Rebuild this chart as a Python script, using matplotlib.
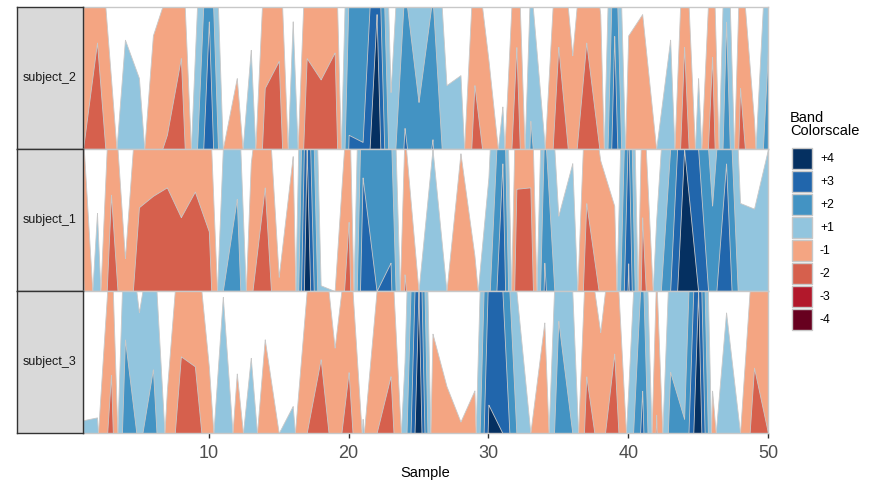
import numpy as np
import matplotlib
matplotlib.use("Agg")
from matplotlib import pyplot as plt
from matplotlib.patches import Rectangle

plt.rcParams['font.family'] = ['Liberation Sans', 'DejaVu Sans']

samples = np.arange(1, 51)
subjects = ["subject_2", "subject_1", "subject_3"]

# values in band units (1.0 = one full band)
subject_2 = [-1.0, -1.75, -0.5, 0.77, 0.5, -0.8, -1.1, -1.64, 0.65, 2.9,
             0.0, -0.5, 0.7, -1.43, -1.62, 0.9, -1.64, -1.49, -1.68, 2.1,
             2.05, 3.95, 0.4, 2.15, 1.33, 2.07, 0.45, 0.52, -1.45, -0.63,
             0.3, -1.72, 1.2, 0.05, -1.72, -0.66, -1.75, -0.95, 2.8, -0.8,
             -0.95, 0.0, 0.77, -1.72, 0.5, -1.65, 1.9, -1.43, -0.2, 1.7]
subject_1 = [-1.1, 0.55, -1.68, -0.23, -1.59, -1.67, -1.73, -1.52, -1.70, -1.42,
             1.0, 1.65, -0.9, -1.73, -0.1, -0.95, 4.0, 0.04, 0.0, -1.49,
             2.8, 2.0, 2.2, -1.12, 0.0, 1.0, 0.0, -0.97, -0.25, 0.8,
             2.9, -1.72, -1.73, 2.2, 0.53, 0.9, -1.62, -0.92, -0.6, 3.2,
             -1.52, 0.5, 2.0, 4.0, 3.0, 1.6, 2.9, 0.62, 0.58, 1.0]
subject_3 = [0.09, 0.11, -1.41, 1.66, 0.85, 1.45, -0.3, -1.54, -1.47, -0.47,
             0.96, -0.42, 0.53, -0.66, 0.0, 0.19, -1.0, -1.52, -0.6, -1.43,
             0.1, -1.0, -1.4, 0.5, 4.0, -0.7, -0.33, -0.08, -0.3, 3.2,
             3.0, 1.0, 0.0, -0.78, 1.79, 1.0, -1.4, -0.71, -1.56, 0.3,
             2.3, -1.13, 1.43, 1.1, 4.0, -0.3, 0.85, 0.0, -1.46, -1.0]
series = [subject_2, subject_1, subject_3]

band_labels = ["+4", "+3", "+2", "+1", "-1", "-2", "-3", "-4"]
pos_colors = ["#92C5DE", "#4393C3", "#2166AC", "#053061"]
neg_colors = ["#F4A582", "#D6604D", "#B2182B", "#67001F"]
n_bands = 4

W, H = 875, 486
fig = plt.figure(figsize=(W / 100, H / 100), dpi=100)


def px_axes(x0, y0, x1, y1):
    return fig.add_axes([x0 / W, 1 - y1 / H, (x1 - x0) / W, (y1 - y0) / H])


def horizon(ax, values):
    # dense grid only to draw the clipped straight segments between samples
    xf = np.linspace(samples[0], samples[-1], 20000)
    vf = np.interp(xf, samples, values)
    for sign, colors in ((1, pos_colors), (-1, neg_colors)):
        part = np.clip(sign * vf, 0, None)
        for k in range(n_bands):
            yk = np.clip(part - k, 0, 1)
            if yk.max() <= 0:
                continue
            ax.fill_between(xf, 0, yk, facecolor=colors[k],
                            edgecolor="#C8C8C8", linewidth=0.6)


panel_top = 7
panel_h = 142
for i, (name, vals) in enumerate(zip(subjects, series)):
    y0 = panel_top + i * panel_h
    ax = px_axes(83, y0, 768, y0 + panel_h)
    horizon(ax, vals)
    ax.set_xlim(1, 50)
    ax.set_ylim(0, 1)
    ax.set_yticks([])
    for s in ax.spines.values():
        s.set_color("#C8C8C8")
        s.set_linewidth(1)
    if i == len(subjects) - 1:
        ax.set_xticks([10, 20, 30, 40, 50])
        ax.tick_params(axis="x", length=3.5, width=1, color="#333333",
                       labelsize=13, labelcolor="#4D4D4D", pad=5)
        ax.set_xlabel("Sample", fontsize=10.5, color="black", labelpad=3)
    else:
        ax.set_xticks([])

    sax = px_axes(17, y0, 83, y0 + panel_h)
    sax.set_facecolor("#D9D9D9")
    sax.set_xticks([])
    sax.set_yticks([])
    for s in sax.spines.values():
        s.set_color("#333333")
        s.set_linewidth(1)
    sax.text(0.5, 0.5, name, ha="center", va="center", fontsize=9,
             color="#1A1A1A", transform=sax.transAxes)

# legend
lax = px_axes(780, 100, 875, 340)
lax.set_xlim(780, 875)
lax.set_ylim(340, 100)
lax.axis("off")
lax.text(790, 111, "Band\nColorscale", ha="left", va="top", fontsize=10.5,
         linespacing=0.95)
key_colors = pos_colors[::-1] + neg_colors
for j, (lab, col) in enumerate(zip(band_labels, key_colors)):
    ky = 148 + j * 23
    lax.add_patch(Rectangle((792, ky), 20, 21, facecolor=col,
                            edgecolor="#C8C8C8", linewidth=1))
    lax.text(820, ky + 10.5, lab, ha="left", va="center", fontsize=8.8)

plt.savefig("out.png", dpi=100)
